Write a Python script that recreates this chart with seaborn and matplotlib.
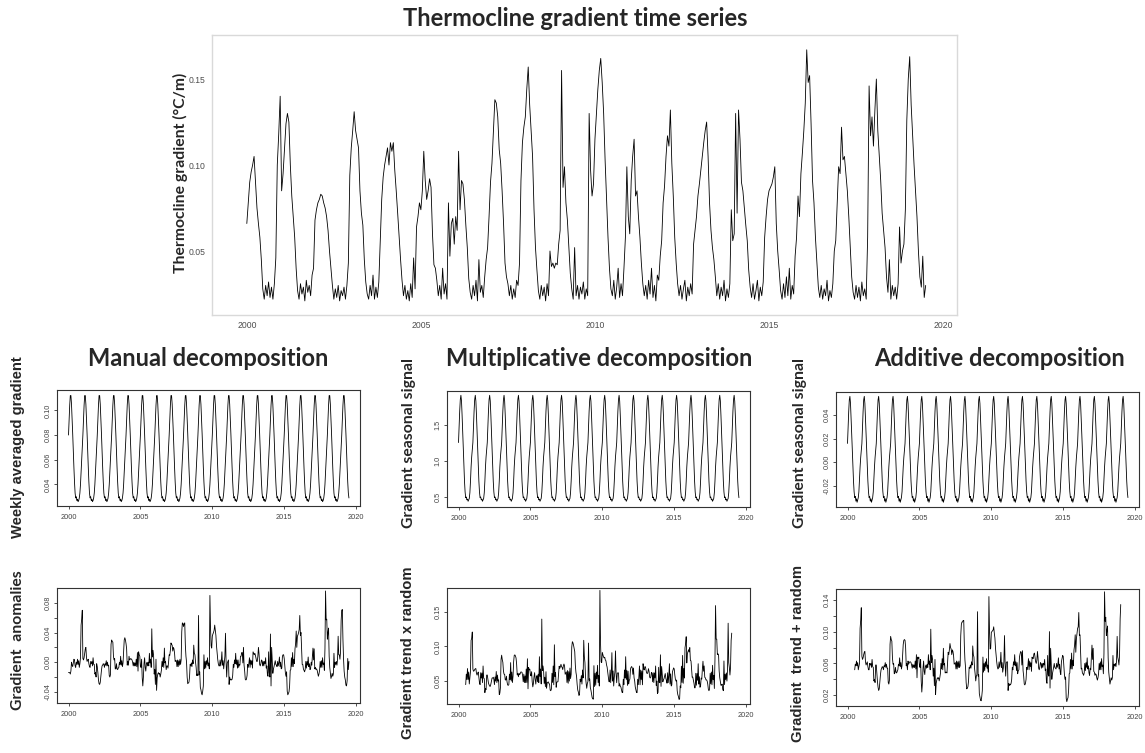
import matplotlib
matplotlib.use("Agg")
import matplotlib.pyplot as plt
import numpy as np
import pandas as pd
import seaborn as sns

# Thermocline gradient (degC/m), two readings per month, one list per year
y2000 = [0.066, 0.078, 0.090, 0.096, 0.100, 0.105, 0.090, 0.075, 0.066, 0.058, 0.045, 0.028,
         0.022, 0.030, 0.024, 0.032, 0.023, 0.029, 0.022, 0.031, 0.046, 0.100, 0.118, 0.140]
y2001 = [0.085, 0.095, 0.110, 0.124, 0.130, 0.125, 0.100, 0.082, 0.070, 0.058, 0.040, 0.027,
         0.022, 0.031, 0.025, 0.029, 0.021, 0.033, 0.026, 0.030, 0.024, 0.036, 0.040, 0.068]
y2002 = [0.074, 0.078, 0.080, 0.083, 0.082, 0.078, 0.075, 0.070, 0.062, 0.050, 0.040, 0.030,
         0.022, 0.028, 0.023, 0.030, 0.021, 0.027, 0.024, 0.029, 0.022, 0.030, 0.043, 0.094]
y2003 = [0.110, 0.120, 0.131, 0.120, 0.115, 0.110, 0.085, 0.072, 0.065, 0.045, 0.032, 0.025,
         0.022, 0.030, 0.024, 0.036, 0.022, 0.029, 0.023, 0.032, 0.056, 0.080, 0.093, 0.100]
y2004 = [0.105, 0.110, 0.100, 0.113, 0.108, 0.113, 0.097, 0.085, 0.072, 0.058, 0.045, 0.033,
         0.024, 0.030, 0.022, 0.027, 0.021, 0.031, 0.023, 0.046, 0.028, 0.064, 0.070, 0.078]
y2005 = [0.074, 0.085, 0.108, 0.091, 0.080, 0.085, 0.092, 0.087, 0.060, 0.042, 0.040, 0.033,
         0.024, 0.030, 0.022, 0.040, 0.025, 0.031, 0.022, 0.078, 0.047, 0.066, 0.069, 0.054]
y2006 = [0.070, 0.062, 0.108, 0.074, 0.091, 0.089, 0.080, 0.065, 0.052, 0.034, 0.026, 0.022,
         0.030, 0.024, 0.033, 0.021, 0.045, 0.026, 0.030, 0.023, 0.035, 0.045, 0.052, 0.070]
y2007 = [0.090, 0.101, 0.120, 0.138, 0.136, 0.128, 0.109, 0.101, 0.085, 0.066, 0.043, 0.035,
         0.031, 0.024, 0.030, 0.022, 0.028, 0.023, 0.033, 0.030, 0.043, 0.091, 0.113, 0.122]
y2008 = [0.128, 0.144, 0.157, 0.135, 0.120, 0.105, 0.074, 0.052, 0.039, 0.027, 0.022, 0.030,
         0.024, 0.029, 0.021, 0.031, 0.024, 0.050, 0.041, 0.043, 0.040, 0.043, 0.042, 0.054]
y2009 = [0.062, 0.155, 0.087, 0.099, 0.078, 0.068, 0.052, 0.037, 0.028, 0.022, 0.052, 0.024,
         0.030, 0.022, 0.029, 0.025, 0.032, 0.022, 0.028, 0.024, 0.130, 0.097, 0.082, 0.089]
y2010 = [0.115, 0.130, 0.144, 0.155, 0.162, 0.148, 0.130, 0.103, 0.080, 0.058, 0.040, 0.028,
         0.024, 0.033, 0.022, 0.029, 0.040, 0.023, 0.031, 0.024, 0.040, 0.058, 0.099, 0.070]
y2011 = [0.060, 0.091, 0.105, 0.115, 0.082, 0.085, 0.070, 0.058, 0.043, 0.031, 0.024, 0.030,
         0.022, 0.033, 0.025, 0.040, 0.023, 0.030, 0.021, 0.036, 0.033, 0.047, 0.056, 0.078]
y2012 = [0.088, 0.105, 0.117, 0.111, 0.132, 0.101, 0.082, 0.058, 0.043, 0.031, 0.024, 0.030,
         0.022, 0.028, 0.033, 0.021, 0.029, 0.024, 0.031, 0.025, 0.054, 0.062, 0.070, 0.082]
y2013 = [0.089, 0.097, 0.105, 0.113, 0.120, 0.125, 0.105, 0.078, 0.062, 0.052, 0.045, 0.035,
         0.024, 0.031, 0.022, 0.029, 0.024, 0.033, 0.021, 0.028, 0.023, 0.031, 0.074, 0.056]
y2014 = [0.060, 0.130, 0.072, 0.132, 0.115, 0.090, 0.085, 0.075, 0.065, 0.056, 0.039, 0.029,
         0.023, 0.031, 0.022, 0.027, 0.033, 0.021, 0.029, 0.024, 0.032, 0.058, 0.070, 0.080]
y2015 = [0.085, 0.087, 0.089, 0.093, 0.099, 0.066, 0.050, 0.039, 0.027, 0.022, 0.031, 0.023,
         0.035, 0.024, 0.040, 0.022, 0.030, 0.025, 0.047, 0.058, 0.082, 0.070, 0.095, 0.107]
y2016 = [0.120, 0.136, 0.167, 0.148, 0.152, 0.124, 0.091, 0.078, 0.058, 0.043, 0.029, 0.023,
         0.030, 0.022, 0.028, 0.024, 0.033, 0.021, 0.027, 0.023, 0.031, 0.050, 0.056, 0.078]
y2017 = [0.099, 0.095, 0.122, 0.103, 0.105, 0.095, 0.085, 0.070, 0.052, 0.035, 0.026, 0.022,
         0.030, 0.023, 0.029, 0.021, 0.032, 0.024, 0.028, 0.022, 0.058, 0.146, 0.117, 0.128]
y2018 = [0.111, 0.132, 0.150, 0.120, 0.105, 0.091, 0.072, 0.062, 0.052, 0.035, 0.026, 0.045,
         0.022, 0.030, 0.024, 0.029, 0.022, 0.031, 0.064, 0.043, 0.050, 0.054, 0.074, 0.126]
y2019 = [0.150, 0.163, 0.135, 0.117, 0.100, 0.085, 0.070, 0.050, 0.035, 0.029, 0.047, 0.023,
         0.030]

# One year of each seasonal signal, same 24 steps per year
manual_profile = [0.080, 0.092, 0.104, 0.112, 0.112, 0.105, 0.094, 0.081, 0.067, 0.054, 0.042, 0.033,
                  0.029, 0.030, 0.027, 0.028, 0.026, 0.027, 0.029, 0.033, 0.040, 0.050, 0.060, 0.070]
mult_profile = [1.26, 1.48, 1.70, 1.86, 1.92, 1.84, 1.64, 1.40, 1.14, 0.92, 0.72, 0.57,
                0.49, 0.50, 0.46, 0.47, 0.44, 0.46, 0.48, 0.56, 0.72, 0.92, 1.06, 1.16]
add_profile = [0.016, 0.030, 0.043, 0.053, 0.056, 0.050, 0.038, 0.024, 0.010, -0.004, -0.016, -0.025,
               -0.030, -0.029, -0.033, -0.031, -0.034, -0.032, -0.030, -0.025, -0.014, -0.004, 0.004, 0.010]

year_ticks = [2000, 2005, 2010, 2015, 2020]

# Build the table
gradient = np.concatenate([y2000, y2001, y2002, y2003, y2004, y2005, y2006, y2007, y2008, y2009,
                           y2010, y2011, y2012, y2013, y2014, y2015, y2016, y2017, y2018, y2019])
n = len(gradient)
df = pd.DataFrame({"time": 2000 + np.arange(n) / 24, "gradient": gradient})
df["manual"] = np.resize(manual_profile, n)
df["mult"] = np.resize(mult_profile, n)
df["add"] = np.resize(add_profile, n)
df["anomaly"] = df["gradient"] - df["manual"]
df["trend_x_random"] = df["gradient"] / df["mult"]
df["trend_plus_random"] = df["gradient"] - df["add"]
# moving-average trend is undefined for the first and last half year
trend_df = df[(df["time"] >= 2000.5) & (df["time"] <= 2019.0)]

sns.set_style("ticks")
plt.rcParams["font.family"] = ["Liberation Sans", "DejaVu Sans"]

W, H = 1145, 753
fig = plt.figure(figsize=(W / 100, H / 100), dpi=100)


def box(x0, y0, x1, y1):
    return [x0 / W, 1 - y1 / H, (x1 - x0) / W, (y1 - y0) / H]


def label(x, y, s, size, family, rotation=0):
    fig.text(x / W, 1 - y / H, s, ha="center", va="center", rotation=rotation,
             fontsize=size, fontweight="bold", family=[family, "DejaVu Sans"])


# Top panel (ggplot-like)
ax = fig.add_axes(box(212, 35, 957, 315))
sns.lineplot(data=df, x="time", y="gradient", ax=ax, color="black", linewidth=0.6, estimator=None)
ax.set_xlim(1999.0, 2020.4)
ax.set_ylim(0.0128, 0.1756)
ax.set_xticks(year_ticks)
ax.set_yticks([0.05, 0.10, 0.15])
ax.set_yticklabels(["0.05", "0.10", "0.15"])
ax.tick_params(length=0, labelsize=6.2, labelcolor="#4d4d4d", pad=4.5)
ax.set_xlabel("")
ax.set_ylabel("")
for s in ax.spines.values():
    s.set_visible(True)
    s.set_color("#d9d9d9")
    s.set_linewidth(1.0)


# R-style small panels
def r_panel(rect, data, col, ylim, yticks, ylabels):
    ax = fig.add_axes(box(*rect))
    sns.lineplot(data=data, x="time", y=col, ax=ax, color="black", linewidth=0.6, estimator=None)
    ax.set_xlim(1999.2, 2020.27)
    ax.set_ylim(*ylim)
    ax.set_xticks(year_ticks)
    ax.set_xticklabels([str(v) for v in year_ticks])
    ax.set_yticks(yticks)
    ax.set_yticklabels(ylabels, rotation=90, va="center")
    ax.tick_params(direction="out", length=2.5, width=0.6, color="#333333",
                   labelsize=5.3, labelcolor="#444444")
    ax.tick_params(axis="x", pad=3.5)
    ax.tick_params(axis="y", pad=1.5)
    ax.set_xlabel("")
    ax.set_ylabel("")
    for s in ax.spines.values():
        s.set_visible(True)
        s.set_color("#333333")
        s.set_linewidth(0.8)
    return ax


r_panel((57, 390, 360, 506), df, "manual", (0.0225, 0.1165),
        [0.04, 0.06, 0.08, 0.10], ["0.04", "0.06", "0.08", "0.10"])
r_panel((447, 391, 750, 507), df, "mult", (0.36, 1.98),
        [0.5, 1.0, 1.5], ["0.5", "1.0", "1.5"])
r_panel((836, 392, 1139, 507), df, "add", (-0.038, 0.0597),
        [-0.02, 0.0, 0.02, 0.04], ["-0.02", "0.00", "0.02", "0.04"])
r_panel((57, 588, 360, 703), df, "anomaly", (-0.055, 0.100),
        [-0.04, -0.02, 0.0, 0.02, 0.04, 0.06, 0.08], ["-0.04", "", "0.00", "", "0.04", "", "0.08"])
r_panel((447, 588, 750, 704), trend_df, "trend_x_random", (0.017, 0.184),
        [0.05, 0.10, 0.15], ["0.05", "0.10", "0.15"])
r_panel((836, 589, 1139, 706), trend_df, "trend_plus_random", (0.0065, 0.1535),
        [0.02, 0.04, 0.06, 0.08, 0.10, 0.12, 0.14], ["0.02", "", "0.06", "", "0.10", "", "0.14"])

# Titles
label(575, 18, "Thermocline gradient time series", 17, "Lato")
label(208, 358, "Manual decomposition", 17, "Lato")
label(599, 358, "Multiplicative decomposition", 17, "Lato")
label(1000, 358, "Additive decomposition", 17, "Lato")

# Axis labels
label(180, 173, "Thermocline gradient (\u00b0C/m)", 11.3, "Lato", rotation=90)
label(18, 447, "Weekly averaged gradient", 10.6, "Liberation Sans", rotation=90)
label(409, 443, "Gradient seasonal signal", 11.3, "Lato", rotation=90)
label(800, 443, "Gradient seasonal signal", 11.3, "Lato", rotation=90)
label(18, 640, "Gradient  anomalies", 11.3, "Lato", rotation=90)
label(408, 653, "Gradient trend x random", 10.6, "Liberation Sans", rotation=90)
label(798, 653, "Gradient  trend + random", 10.6, "Liberation Sans", rotation=90)

fig.savefig("out.png", dpi=100)
